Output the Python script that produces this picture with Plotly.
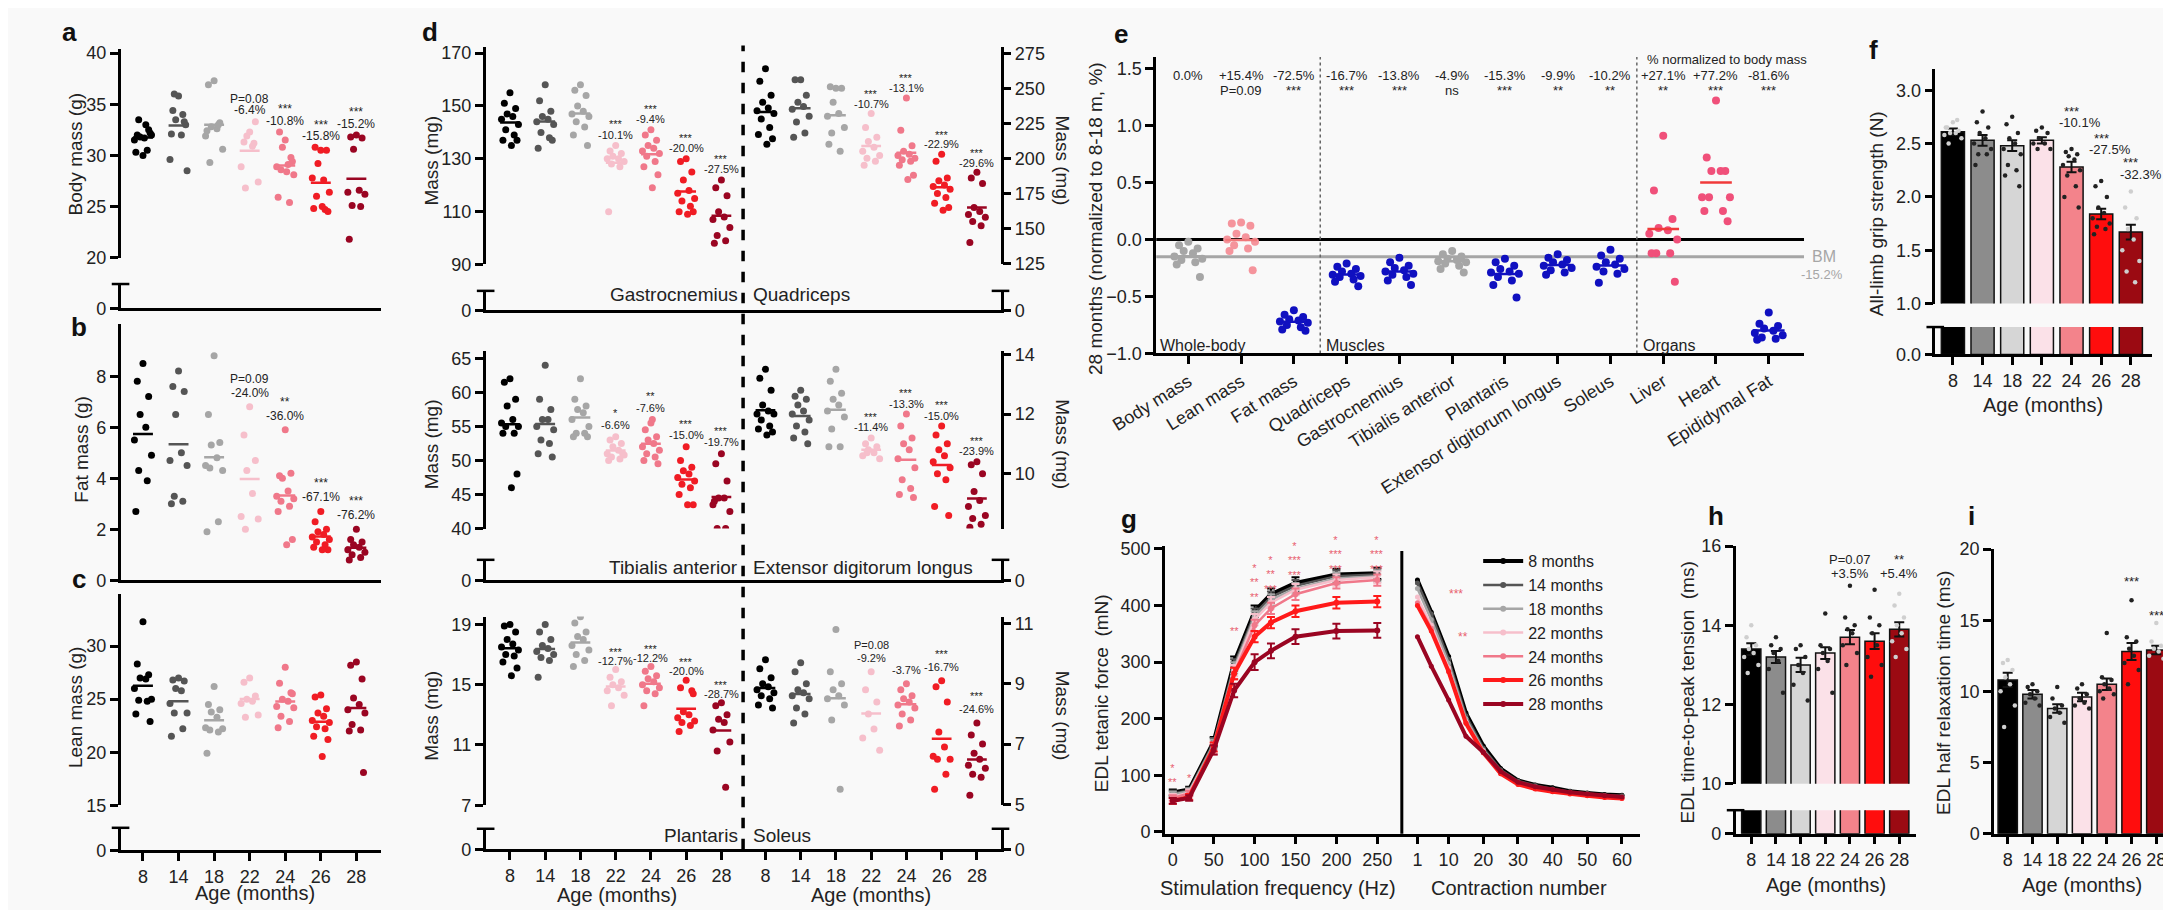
import plotly.graph_objects as go
import numpy as np

W, H = 2171, 910
def px(x): return x / W
def py(y): return 1 - y / H

AGES = ["8", "14", "18", "22", "24", "26", "28"]
DOT_COLORS = ["#000000", "#555555", "#a6a6a6", "#f6bfcb", "#f0788a", "#f01c24", "#9a0522"]
BAR_COLORS = ["#000000", "#8c8c8c", "#d6d6d6", "#fbe1e8", "#f3838b", "#ff0d0d", "#9b0a12"]

# ---------------- data ----------------
body_mass = [
    [30.0, 32.0, 32.5, 31.8, 33.0, 31.5, 32.0, 33.5, 30.5, 30.3, 32.2, 31.7],
    [35.8, 34.4, 33.3, 33.5, 32.0, 29.6, 28.5, 36.0, 34.0, 32.1, 33.0],
    [37.3, 36.9, 33.2, 32.8, 32.6, 31.9, 30.6, 29.3, 33.0, 32.4],
    [32.3, 31.3, 33.3, 31.9, 30.9, 28.9, 27.4, 26.8, 31.2],
    [31.5, 32.3, 29.8, 30.8, 29.1, 28.9, 28.1, 28.6, 25.4, 25.9, 29.4, 28.4],
    [30.5, 30.8, 30.5, 29.2, 27.6, 27.8, 26.4, 26.0, 24.7, 24.8, 24.5, 25.0],
    [32.0, 31.8, 31.7, 30.6, 26.6, 26.4, 26.2, 25.1, 25.0, 21.8],
]
fat_mass = [
    [8.5, 7.8, 7.2, 6.5, 6.0, 5.5, 4.9, 4.3, 3.9, 2.7],
    [8.2, 7.6, 7.4, 6.5, 5.0, 4.7, 4.5, 3.3, 3.1, 3.0],
    [8.8, 6.5, 5.4, 5.3, 4.8, 4.5, 4.3, 4.4, 2.3, 1.9],
    [6.8, 5.7, 4.7, 4.3, 3.4, 2.5, 2.4, 2.0],
    [5.9, 4.1, 4.2, 4.0, 3.5, 3.3, 3.2, 3.1, 2.9, 2.7, 1.6, 1.4],
    [2.7, 2.3, 2.0, 1.9, 1.8, 1.7, 1.6, 1.5, 1.4, 1.3, 1.2, 1.2],
    [2.0, 1.6, 1.5, 1.4, 1.3, 1.2, 1.1, 1.0, 0.9, 0.8],
]
lean_mass = [
    [32.3, 28.3, 27.3, 27.0, 26.9, 26.0, 25.0, 24.9, 24.8, 23.6, 22.9],
    [27.0, 26.8, 26.7, 26.0, 25.8, 24.6, 23.7, 23.7, 22.2, 21.5],
    [26.2, 24.5, 24.0, 23.8, 23.3, 22.3, 22.2, 22.1, 21.9, 19.9],
    [27.0, 26.6, 25.3, 25.0, 24.8, 24.6, 23.5, 23.3],
    [28.0, 26.5, 25.6, 25.0, 24.8, 24.3, 24.2, 23.4, 22.9, 22.3, 25.5],
    [25.4, 25.2, 24.1, 23.7, 23.4, 23.0, 22.8, 22.4, 22.2, 21.5, 21.2, 19.6],
    [28.5, 28.2, 26.9, 25.1, 24.5, 24.0, 23.7, 22.6, 22.1, 22.0, 18.1],
]
gastrocnemius = [
    [155, 151, 149, 147, 146, 145, 143, 141, 139, 137, 137, 135],
    [158, 152, 148, 146, 145, 144, 143, 140, 138, 134, 137],
    [158, 156, 154, 150, 148, 147, 146, 144, 142, 139, 135],
    [135, 133, 132, 131, 130, 130, 129, 128, 127, 110],
    [141, 139, 137, 135, 134, 133, 132, 131, 129, 127, 124, 119],
    [130, 129, 125, 122, 118, 117, 115, 114, 112, 110, 110, 109],
    [122, 119, 116, 110, 108, 107, 104, 101, 99, 98],
]
quadriceps = [
    [264, 255, 245, 240, 236, 234, 232, 228, 222, 217, 214, 210],
    [256, 256, 245, 240, 237, 235, 230, 226, 218, 215],
    [250, 251, 250, 240, 232, 230, 222, 218, 205, 210],
    [232, 222, 215, 212, 208, 205, 202, 200, 198, 195],
    [243, 220, 209, 205, 203, 202, 200, 199, 198, 195, 188, 185],
    [203, 198, 186, 184, 181, 180, 178, 175, 172, 168, 165, 163],
    [190, 186, 182, 165, 162, 160, 158, 155, 152, 140],
]
tibialis = [
    [62, 61.5, 59, 58, 56, 55.5, 55, 55, 54, 54, 48, 46],
    [64, 59, 57.5, 56, 56, 55, 54.5, 53, 52.5, 51, 50.5],
    [62, 59, 58, 57.5, 57, 56, 55, 54, 54, 53.5, 53.5],
    [53.5, 53, 52.5, 52, 51.5, 51, 50.8, 50.5, 50.2, 50, 51],
    [55.5, 54.5, 53.5, 53, 52.5, 52, 51.5, 51, 50.5, 50, 49.5, 56],
    [52, 50, 49, 48.5, 48, 47.5, 47, 46.5, 46, 45, 43.5, 43.5],
    [51, 49.5, 47, 44.5, 44.5, 43.5, 42.5, 40, 40, 44],
]
edl = [
    [13.5, 13.2, 12.8, 12.3, 12.1, 12.0, 12.0, 11.8, 11.6, 11.5, 11.4, 11.3],
    [12.8, 12.6, 12.5, 12.3, 12.1, 12.0, 11.8, 11.6, 11.4, 11.2, 11.0],
    [13.5, 13.1, 12.7, 12.5, 12.3, 12.1, 11.9, 11.5, 10.9, 10.9],
    [11.2, 11.0, 10.9, 10.8, 10.7, 10.6, 10.5, 10.7],
    [12.0, 11.6, 11.2, 11.0, 10.8, 10.5, 10.2, 9.8, 9.5, 9.3, 9.2],
    [11.6, 11.3, 11.0, 10.8, 10.6, 10.4, 10.2, 10.0, 9.8, 8.9, 8.6],
    [10.4, 10.3, 10.0, 9.4, 9.1, 8.9, 8.6, 8.5, 8.3, 8.2],
]
plantaris = [
    [19.0, 18.9, 18.5, 18.0, 17.7, 17.5, 17.3, 17.0, 16.9, 16.5, 16.1, 15.6],
    [19.0, 18.5, 18.0, 17.6, 17.4, 17.2, 17.0, 16.8, 16.6, 15.5],
    [19.5, 19.1, 18.5, 18.2, 18.0, 17.6, 17.3, 17.0, 16.6, 16.2],
    [16.0, 15.5, 15.2, 15.0, 14.8, 14.6, 14.3, 13.6],
    [16.2, 15.9, 15.6, 15.4, 15.2, 15.0, 14.8, 14.6, 14.4, 13.6],
    [15.3, 14.8, 14.6, 13.2, 13.0, 12.8, 12.6, 12.5, 12.3, 11.9, 14.4],
    [13.8, 13.6, 13.0, 12.7, 12.5, 12.0, 11.2, 10.6, 8.2],
]
soleus = [
    [9.8, 9.5, 9.2, 9.0, 8.9, 8.8, 8.7, 8.6, 8.5, 8.3, 8.2],
    [9.7, 9.4, 9.0, 8.8, 8.7, 8.6, 8.5, 8.2, 8.0, 7.7],
    [10.8, 9.4, 9.0, 8.8, 8.6, 8.5, 8.3, 7.8, 5.5],
    [9.4, 8.8, 8.4, 8.0, 7.5, 7.2, 6.8],
    [9.0, 8.8, 8.6, 8.5, 8.4, 8.3, 8.2, 8.0, 7.8, 7.6],
    [9.1, 8.9, 8.4, 7.4, 6.9, 6.6, 6.5, 6.5, 6.0, 5.5],
    [7.7, 7.3, 7.0, 6.7, 6.5, 6.3, 6.2, 6.0, 5.9, 5.3],
]
ann_body = [(3, "P=0.08", "-6.4%"), (4, "***", "-10.8%"), (5, "***", "-15.8%"), (6, "***", "-15.2%")]
ann_fat = [(3, "P=0.09", "-24.0%"), (4, "**", "-36.0%"), (5, "***", "-67.1%"), (6, "***", "-76.2%")]
ann_gas = [(3, "***", "-10.1%"), (4, "***", "-9.4%"), (5, "***", "-20.0%"), (6, "***", "-27.5%")]
ann_quad = [(3, "***", "-10.7%"), (4, "***", "-13.1%"), (5, "***", "-22.9%"), (6, "***", "-29.6%")]
ann_ta = [(3, "*", "-6.6%"), (4, "**", "-7.6%"), (5, "***", "-15.0%"), (6, "***", "-19.7%")]
ann_edl = [(3, "***", "-11.4%"), (4, "***", "-13.3%"), (5, "***", "-15.0%"), (6, "***", "-23.9%")]
ann_pla = [(3, "***", "-12.7%"), (4, "***", "-12.2%"), (5, "***", "-20.0%"), (6, "***", "-28.7%")]
ann_sol = [(3, "P=0.08", "-9.2%"), (4, "", "-3.7%"), (5, "***", "-16.7%"), (6, "***", "-24.6%")]

e_categories = ["Body mass", "Lean mass", "Fat mass", "Quadriceps", "Gastrocnemius", "Tibialis anterior",
                "Plantaris", "Extensor digitorum longus", "Soleus", "Liver", "Heart", "Epididymal Fat"]
e_values = [
    [-0.02, -0.05, -0.08, -0.10, -0.12, -0.15, -0.17, -0.18, -0.20, -0.22, -0.33],
    [0.15, 0.14, 0.12, 0.05, 0.02, 0.00, -0.02, -0.05, -0.08, -0.10, -0.27],
    [-0.62, -0.66, -0.68, -0.70, -0.71, -0.72, -0.73, -0.75, -0.77, -0.79, -0.80],
    [-0.21, -0.24, -0.26, -0.28, -0.30, -0.31, -0.32, -0.33, -0.35, -0.37, -0.41],
    [-0.16, -0.20, -0.23, -0.25, -0.27, -0.28, -0.30, -0.31, -0.33, -0.36, -0.40],
    [-0.10, -0.13, -0.15, -0.17, -0.18, -0.19, -0.20, -0.21, -0.23, -0.26, -0.29],
    [-0.17, -0.20, -0.23, -0.26, -0.28, -0.29, -0.30, -0.33, -0.36, -0.40, -0.51],
    [-0.13, -0.16, -0.18, -0.20, -0.22, -0.23, -0.25, -0.27, -0.29, -0.31],
    [-0.09, -0.14, -0.17, -0.20, -0.22, -0.24, -0.26, -0.28, -0.30, -0.38],
    [0.91, 0.43, 0.18, 0.10, 0.08, 0.05, 0.00, -0.12, -0.12, -0.12, -0.37],
    [1.22, 0.72, 0.60, 0.60, 0.60, 0.37, 0.37, 0.37, 0.25, 0.25, 0.16],
    [-0.64, -0.74, -0.76, -0.78, -0.80, -0.82, -0.84, -0.86, -0.87, -0.88],
]
e_colors = ["#a6a6a6", "#f5949c", "#1010c0", "#1010c0", "#1010c0", "#a6a6a6", "#1010c0", "#1010c0",
            "#1010c0", "#f0507a", "#f0507a", "#1010c0"]
e_line_colors = ["#a6a6a6", "#f0787a", "#1010c0", "#1010c0", "#1010c0", "#a6a6a6", "#1010c0", "#1010c0",
                 "#1010c0", "#f03a3a", "#f03a3a", "#1010c0"]
e_pct = ["0.0%", "+15.4%", "-72.5%", "-16.7%", "-13.8%", "-4.9%", "-15.3%", "-9.9%", "-10.2%", "+27.1%", "+77.2%", "-81.6%"]
e_sig = ["", "P=0.09", "***", "***", "***", "ns", "***", "**", "**", "**", "***", "***"]
bm_level = -0.152

grip_mean = [2.61, 2.53, 2.48, 2.53, 2.28, 1.84, 1.67]
grip_sem = [0.03, 0.05, 0.05, 0.03, 0.05, 0.05, 0.07]
grip_pts = [
    [2.7, 2.65, 2.62, 2.6, 2.6, 2.58, 2.55, 2.5, 2.72, 2.65],
    [2.8, 2.7, 2.65, 2.6, 2.55, 2.5, 2.45, 2.4, 2.4, 2.3],
    [2.75, 2.68, 2.6, 2.55, 2.5, 2.45, 2.4, 2.3, 2.25, 2.2, 2.1],
    [2.65, 2.62, 2.6, 2.55, 2.5, 2.5, 2.45, 2.45],
    [2.45, 2.42, 2.4, 2.38, 2.35, 2.3, 2.25, 2.2, 2.1, 2.0, 1.9],
    [2.15, 2.1, 2.0, 1.9, 1.85, 1.8, 1.75, 1.72, 1.7, 1.65],
    [2.05, 1.9, 1.8, 1.7, 1.6, 1.5, 1.4, 1.3, 1.2],
]
ttp_mean = [13.4, 13.2, 13.0, 13.3, 13.7, 13.6, 13.9]
ttp_sem = [0.15, 0.15, 0.18, 0.15, 0.18, 0.2, 0.18]
ttp_pts = [
    [14.0, 13.7, 13.5, 13.4, 13.3, 13.2, 13.0, 12.8],
    [13.7, 13.5, 13.4, 13.3, 13.1, 12.9, 12.3],
    [13.5, 13.4, 13.2, 13.0, 12.8, 12.5, 12.1],
    [14.3, 13.5, 13.4, 13.3, 13.1, 12.9, 12.3],
    [15.0, 14.2, 14.0, 13.9, 13.8, 13.5, 13.3, 13.0],
    [14.9, 14.2, 14.0, 13.8, 13.5, 13.2, 13.0, 12.7],
    [14.8, 14.5, 14.2, 14.0, 13.8, 13.6, 13.4, 13.2],
]
hrt_mean = [10.8, 9.8, 8.8, 9.6, 10.5, 12.8, 12.9]
hrt_sem = [0.5, 0.3, 0.3, 0.3, 0.4, 0.6, 0.3]
hrt_pts = [
    [12.2, 12.0, 11.5, 11.0, 10.5, 10.0, 9.0, 7.5],
    [10.5, 10.3, 10.0, 9.8, 9.5, 9.2, 9.0],
    [10.3, 9.5, 9.0, 8.8, 8.5, 8.2, 7.8],
    [10.5, 10.2, 9.8, 9.5, 9.2, 9.0, 8.8],
    [14.1, 11.0, 10.8, 10.5, 10.2, 10.0, 9.8, 9.5],
    [16.4, 13.8, 13.5, 13.0, 12.5, 12.0, 11.5, 10.5],
    [14.8, 13.5, 13.2, 13.0, 12.8, 12.5, 12.3],
]

freq = [0, 20, 50, 75, 100, 120, 150, 200, 250]
force = [
    [70, 75, 160, 300, 390, 420, 440, 455, 457],
    [68, 73, 158, 295, 385, 415, 435, 452, 455],
    [66, 72, 155, 290, 380, 410, 430, 448, 452],
    [62, 70, 150, 285, 375, 405, 428, 445, 450],
    [60, 68, 145, 280, 365, 395, 420, 440, 445],
    [55, 62, 150, 280, 345, 370, 390, 405, 407],
    [55, 60, 145, 250, 300, 320, 345, 355, 356],
]
force_err = [
    [5, 5, 8, 10, 10, 10, 10, 10, 10],
    [5, 5, 8, 10, 10, 10, 10, 10, 10],
    [5, 5, 8, 10, 10, 10, 10, 10, 10],
    [5, 5, 8, 10, 10, 10, 10, 10, 10],
    [5, 5, 8, 10, 10, 10, 10, 10, 10],
    [5, 5, 8, 10, 10, 10, 10, 10, 10],
    [5, 5, 8, 12, 14, 13, 13, 13, 13],
]
contraction = [1, 5, 10, 15, 20, 25, 30, 35, 40, 45, 50, 55, 60]
fatigue = [
    [445, 388, 310, 210, 152, 112, 91, 83, 78, 72, 69, 66, 65],
    [440, 385, 305, 205, 148, 110, 90, 82, 76, 71, 68, 65, 64],
    [430, 375, 298, 200, 145, 107, 88, 80, 75, 70, 67, 64, 62],
    [415, 365, 290, 195, 143, 105, 86, 78, 73, 69, 66, 63, 61],
    [405, 360, 285, 193, 142, 104, 85, 77, 72, 68, 65, 62, 60],
    [400, 355, 283, 192, 140, 103, 84, 76, 71, 67, 64, 61, 59],
    [345, 293, 233, 169, 141, 107, 88, 80, 75, 70, 67, 64, 62],
]
legend_names = ["8 months", "14 months", "18 months", "22 months", "24 months", "26 months", "28 months"]
line_colors = ["#000000", "#555555", "#a6a6a6", "#f6bfcb", "#f0788a", "#ff1a1a", "#9a0522"]

# ---------------- helpers ----------------
FONT = "Liberation Sans, Arial, sans-serif"
layout = dict(width=W, height=H, margin=dict(l=0, r=0, t=0, b=0), paper_bgcolor="#f9f9f9",
              plot_bgcolor="rgba(0,0,0,0)", font=dict(family=FONT, color="#222"),
              showlegend=True, shapes=[], annotations=[])
traces = []
cnt = [0]
BASE = dict(showline=True, linewidth=2.5, linecolor="black", ticks="outside", ticklen=8, tickwidth=2.5,
            tickcolor="black", showgrid=False, zeroline=False, tickfont=dict(size=18, color="#222"), fixedrange=True)

def dummy(xref, yref, x, y):
    traces.append(go.Scatter(x=[x], y=[y], mode="markers", xaxis=xref, yaxis=yref, showlegend=False,
                             marker=dict(size=1, opacity=0), hoverinfo="skip"))

def new_axes(xd, yd, xr, yr, xopt=None, yopt=None):
    cnt[0] += 1
    n = cnt[0]
    s = "" if n == 1 else str(n)
    xa = dict(BASE, domain=[px(xd[0]), px(xd[1])], range=xr, anchor="y" + s)
    ya = dict(BASE, domain=[py(yd[1]), py(yd[0])], range=yr, anchor="x" + s)
    if xopt: xa.update(xopt)
    if yopt: ya.update(yopt)
    layout["xaxis" + s] = xa
    layout["yaxis" + s] = ya
    dummy("x" + s, "y" + s, xr[0], yr[0])
    return "x" + s, "y" + s

def right_y(xref, yref, yd, yr, yopt=None):
    cnt[0] += 1
    n = cnt[0]
    ya = dict(BASE, domain=[py(yd[1]), py(yd[0])], range=yr, overlaying=yref, side="right", anchor=xref)
    if yopt: ya.update(yopt)
    layout["yaxis" + str(n)] = ya
    dummy(xref, "y" + str(n), layout["xaxis" + ("" if xref == "x" else xref[1:])]["range"][0], yr[0])
    return "y" + str(n)

def cap(xpx, ypx):
    layout["shapes"].append(dict(type="line", xref="paper", yref="paper", x0=px(xpx - 9), x1=px(xpx + 9),
                                 y0=py(ypx), y1=py(ypx), line=dict(color="black", width=2.5)))

def ann(text, x, y, xref="paper", yref="paper", size=13, color="#222", **kw):
    d = dict(text=text, x=x, y=y, xref=xref, yref=yref, showarrow=False, xanchor="center", yanchor="middle",
             font=dict(size=size, color=color, family=FONT))
    d.update(kw)
    layout["annotations"].append(d)

JIT = [0.0, -0.16, 0.16, -0.08, 0.08, -0.24, 0.24, -0.12, 0.12, -0.2, 0.2, 0.04]

def dots(xref, yref, groups, positions, colors, size=7, half=0.28, lw=2.5):
    for vals, pos, col in zip(groups, positions, colors):
        xs = [pos + JIT[k % len(JIT)] for k in range(len(vals))]
        traces.append(go.Scatter(x=xs, y=vals, mode="markers", xaxis=xref, yaxis=yref, showlegend=False,
                                 marker=dict(size=size, color=col), hoverinfo="skip"))
        m = float(np.mean(vals))
        traces.append(go.Scatter(x=[pos - half, pos + half], y=[m, m], mode="lines", xaxis=xref, yaxis=yref,
                                 showlegend=False, line=dict(color=col, width=lw), hoverinfo="skip"))

def group_ann(xref, yref, items, positions, groups, gap, size=11):
    for gi, star, pct in items:
        top = max(groups[gi])
        ann(pct, positions[gi], top + gap, xref, yref, size=size)
        if star:
            ann(star, positions[gi], top + gap * 2.0, xref, yref, size=size)

def ytitle(text, x, y, size=19, angle=-90):
    ann(text, px(x), py(y), size=size, textangle=angle)

def letter(t, x, y):
    ann("<b>%s</b>" % t, px(x), py(y), size=26, color="#111")

def zero_axis(xd, yd, xr, xopt=None):
    cap(xd[0], yd[0])
    return new_axes(xd, yd, xr, [0, 1], xopt=xopt, yopt=dict(tickvals=[0], ticktext=["0"]))

POS7 = list(range(7))
NOX = dict(showticklabels=False, ticks="")
TICKX = dict(tickvals=POS7, ticktext=AGES)

# ---------------- panels a, b, c ----------------
ABC_X = (68, 334)
ABC_R = [-0.63, 6.69]
xa, ya = new_axes(ABC_X, (32, 245), ABC_R, [20, 40.38], xopt=dict(visible=False), yopt=dict(tickvals=[20, 25, 30, 35, 40]))
dots(xa, ya, body_mass, POS7, DOT_COLORS)
group_ann(xa, ya, ann_body, POS7, body_mass, 1.1, size=12)
zero_axis(ABC_X, (272, 297), ABC_R, xopt=NOX)
xb, yb = new_axes(ABC_X, (313, 575), ABC_R, [0, 10.04], xopt=NOX, yopt=dict(tickvals=[0, 2, 4, 6, 8]))
dots(xb, yb, fat_mass, POS7, DOT_COLORS)
group_ann(xb, yb, ann_fat, POS7, fat_mass, 0.55, size=12)
xc, yc = new_axes(ABC_X, (589, 805), ABC_R, [15, 34.9], xopt=dict(visible=False), yopt=dict(tickvals=[15, 20, 25, 30]))
dots(xc, yc, lean_mass, POS7, DOT_COLORS)
zero_axis(ABC_X, (828, 851), ABC_R, xopt=TICKX)
ytitle("Body mass (g)", 22, 140)
ytitle("Fat mass (g)", 28, 441)
ytitle("Lean mass (g)", 22, 705)
ann("Age (months)", px(205), py(895), size=20)
letter("a", 16, 14)
letter("b", 26, 316)
letter("c", 26, 574)

# ---------------- panel d ----------------
D_X = (441, 967)
D_R = [-0.69, 13.92]
LPOS = [float(i) for i in range(7)]
RPOS = [7.25 + i for i in range(7)]
rows = [
    ((30, 252), [90, 172.2], [90, 110, 130, 150, 170], [124.3, 279.2], [125, 150, 175, 200, 225, 250, 275],
     gastrocnemius, quadriceps, ann_gas, ann_quad, (4.0, 7.0), (279, 299), "Gastrocnemius", "Quadriceps", 283),
    ((340, 522), [40, 66.15], [40, 45, 50, 55, 60, 65], [8.16, 14.13], [8, 10, 12, 14],
     tibialis, edl, ann_ta, ann_edl, (1.7, 0.35), (554, 575), "Tibialis anterior", "Extensor digitorum longus", 562),
    ((612, 805), [7, 19.52], [7, 11, 15, 19], [4.97, 11.23], [5, 7, 9, 11],
     plantaris, soleus, ann_pla, ann_sol, (0.6, 0.45), (829, 850), "Plantaris", "Soleus", 836),
]
for ri, (yd, lr, lt, rr, rt, lg, rg, la, raa, gaps, zd, ln, rn, ly) in enumerate(rows):
    xd_, yd_ = new_axes(D_X, yd, D_R, lr, xopt=dict(visible=False), yopt=dict(tickvals=lt))
    dots(xd_, yd_, lg, LPOS, DOT_COLORS)
    group_ann(xd_, yd_, la, LPOS, lg, gaps[0])
    yr_ = right_y(xd_, yd_, yd, rr, yopt=dict(tickvals=rt))
    dots(xd_, yr_, rg, RPOS, DOT_COLORS)
    group_ann(xd_, yr_, raa, RPOS, rg, gaps[1])
    last = ri == 2
    cap(D_X[0], zd[0])
    cap(D_X[1], zd[0])
    xz, yz = new_axes(D_X, zd, D_R, [0, 1],
                      xopt=(dict(tickvals=LPOS + RPOS, ticktext=AGES + AGES) if last else NOX),
                      yopt=dict(tickvals=[0]))
    right_y(xz, yz, zd, [0, 1], yopt=dict(tickvals=[0]))
    ann(ln, px(701), py(ly), size=19, xanchor="right")
    ann(rn, px(712), py(ly), size=19, xanchor="left")
    ytitle("Mass (mg)", 386, (yd[0] + yd[1]) / 2 + 5)
    ytitle("Mass (mg)", 1030, (yd[0] + yd[1]) / 2 + 5, angle=90)
layout["shapes"].append(dict(type="line", xref="paper", yref="paper", x0=px(704), x1=px(704), y0=py(850), y1=py(28),
                             line=dict(color="black", width=3.5, dash="dash")))
ann("Age (months)", px(575), py(897), size=20)
ann("Age (months)", px(835), py(897), size=20)
letter("d", 384, 14)

# ---------------- panel e ----------------
epos = list(range(12))
xe, ye = new_axes((1126, 1788), (40, 343), [-0.61, 11.67], [-1.0, 1.6],
                  xopt=dict(tickvals=epos, ticktext=e_categories, tickangle=-32, tickfont=dict(size=18, color="#222")),
                  yopt=dict(tickvals=[-1.0, -0.5, 0.0, 0.5, 1.0, 1.5], tickformat=".1f"))
for xv, col in [(bm_level, "#a6a6a6"), (0.0, "black")]:
    traces.append(go.Scatter(x=[-0.61, 11.67], y=[xv, xv], mode="lines", xaxis=xe, yaxis=ye, showlegend=False,
                             line=dict(color=col, width=3), hoverinfo="skip"))
for dv in [2.5, 8.5]:
    traces.append(go.Scatter(x=[dv, dv], y=[-1.0, 1.6], mode="lines", xaxis=xe, yaxis=ye, showlegend=False,
                             line=dict(color="#666", width=1.5, dash="dot"), hoverinfo="skip"))
for i in range(12):
    vals = e_values[i]
    xs = [i + JIT[k % len(JIT)] * 1.1 for k in range(len(vals))]
    traces.append(go.Scatter(x=xs, y=vals, mode="markers", xaxis=xe, yaxis=ye, showlegend=False,
                             marker=dict(size=8, color=e_colors[i]), hoverinfo="skip"))
    m = float(np.mean(vals))
    traces.append(go.Scatter(x=[i - 0.3, i + 0.3], y=[m, m], mode="lines", xaxis=xe, yaxis=ye, showlegend=False,
                             line=dict(color=e_line_colors[i], width=2.5), hoverinfo="skip"))
    ann(e_pct[i], i, 1.44, xe, ye, size=13)
    if e_sig[i]:
        ann(e_sig[i], i, 1.31, xe, ye, size=13)
ann("% normalized to body mass", 10.2, 1.58, xe, ye, size=13)
ann("Whole-body", -0.58, -0.93, xe, ye, size=16, xanchor="left")
ann("Muscles", 2.58, -0.93, xe, ye, size=16, xanchor="left")
ann("Organs", 8.58, -0.93, xe, ye, size=16, xanchor="left")
ann("BM", px(1808), py(244), size=16, color="#a6a6a6")
ann("-15.2%", px(1806), py(262), size=13, color="#a6a6a6")
ytitle("28 months (normalized to 8-18 m, %)", 1064, 205)
letter("e", 1090, 16)

# ---------------- bar panels ----------------
def bar_panel(xd, cat0, step, yd_main, yr_main, ytv, yd_low, yr_low, means, sems, pts, ytfmt=None, lowtick="0"):
    xr = [(xd[0] - cat0) / step, (xd[1] - cat0) / step]
    yopt = dict(tickvals=ytv)
    if ytfmt: yopt["tickformat"] = ytfmt
    refs = []
    xm, ym = new_axes(xd, yd_main, xr, yr_main, xopt=(dict(visible=False) if yd_low else TICKX), yopt=yopt)
    refs.append((xm, ym, True))
    if yd_low:
        cap(xd[0], yd_low[0])
        xl, yl = new_axes(xd, yd_low, xr, yr_low, xopt=TICKX, yopt=dict(tickvals=[0], ticktext=[lowtick]))
        refs.append((xl, yl, False))
    for xr_, yr_, main in refs:
        traces.append(go.Bar(x=POS7, y=means, width=0.78, xaxis=xr_, yaxis=yr_, showlegend=False,
                             marker=dict(color=BAR_COLORS, line=dict(color="#111", width=1.5)),
                             error_y=(dict(type="data", array=sems, color="#111", thickness=2, width=5) if main else None),
                             hoverinfo="skip"))
        if main:
            for i, vals in enumerate(pts):
                xs = [i + JIT[k % len(JIT)] * 1.2 for k in range(len(vals))]
                col = "#cfcfcf" if i in (0, 6) else "#222"
                traces.append(go.Scatter(x=xs, y=vals, mode="markers", xaxis=xr_, yaxis=yr_, showlegend=False,
                                         marker=dict(size=4.5, color=col), hoverinfo="skip"))
    return xm, ym

xf, yf = bar_panel((1922, 2143), 1940, 30.3, (52, 292), [1.0, 3.2], [1.0, 1.5, 2.0, 2.5, 3.0], (316, 344), [0, 0.257],
                   grip_mean, grip_sem, grip_pts, ytfmt=".1f", lowtick="0.0")
for gi, s, p, y1, y2, dx in [(4, "***", "-10.1%", 2.8, 2.70, 0.3), (5, "***", "-27.5%", 2.55, 2.44, 0.3),
                             (6, "***", "-32.3%", 2.32, 2.21, 0.35)]:
    ann(s, gi, y1, xf, yf, size=13)
    ann(p, gi + dx, y2, xf, yf, size=13)
ytitle("All-limb grip strength (N)", 1862, 200)
ann("Age (months)", px(2032), py(396), size=20)
letter("f", 1859, 33)

xh, yh = bar_panel((1718, 1902), 1734, 25.2, (540, 783), [10, 16], [10, 12, 14, 16], (810, 834), [0, 0.59],
                   ttp_mean, ttp_sem, ttp_pts)
ann("P=0.07", 4, 15.65, xh, yh, size=13)
ann("+3.5%", 4, 15.3, xh, yh, size=13)
ann("**", 6, 15.65, xh, yh, size=13)
ann("+5.4%", 6, 15.3, xh, yh, size=13)
ytitle("EDL time-to-peak tension  (ms)", 1669, 690)
ann("Age (months)", px(1810), py(886), size=20)
letter("h", 1698, 509)

xi, yi = bar_panel((1982, 2166), 1996, 25.3, (543, 834), [0, 20], [0, 5, 10, 15, 20], None, None,
                   hrt_mean, hrt_sem, hrt_pts)
ann("***", 5, 17.7, xi, yi, size=13)
ann("***", 6, 15.3, xi, yi, size=13)
ytitle("EDL half relaxation time (ms)", 1931, 690)
ann("Age (months)", px(2072), py(886), size=20)
letter("i", 1959, 509)

# ---------------- panel g ----------------
xg, yg = new_axes((1135, 1377), (540, 834), [-9.6, 280], [-3, 505],
                  xopt=dict(tickvals=[0, 50, 100, 150, 200, 250]), yopt=dict(tickvals=[0, 100, 200, 300, 400, 500]))
xg2, yg2 = new_axes((1377, 1620), (540, 834), [-3.5, 65.1], [-3, 505],
                    xopt=dict(tickvals=[1, 10, 20, 30, 40, 50, 60]), yopt=dict(visible=False))
for i in range(7):
    w = 4 if i in (0, 5, 6) else 2.5
    traces.append(go.Scatter(x=freq, y=force[i], mode="lines+markers", xaxis=xg, yaxis=yg, name=legend_names[i],
                             line=dict(color=line_colors[i], width=w), marker=dict(size=6, color=line_colors[i]),
                             error_y=dict(type="data", array=force_err[i], color=line_colors[i], thickness=2, width=4),
                             legendgroup=str(i), hoverinfo="skip"))
    traces.append(go.Scatter(x=contraction, y=fatigue[i], mode="lines+markers", xaxis=xg2, yaxis=yg2, showlegend=False,
                             line=dict(color=line_colors[i], width=w), marker=dict(size=5, color=line_colors[i]),
                             legendgroup=str(i), hoverinfo="skip"))
layout["shapes"].append(dict(type="line", xref="paper", yref="paper", x0=px(1377), x1=px(1377), y0=py(834), y1=py(545),
                             line=dict(color="black", width=3)))
for xv, yv, t in [(0, 100, "*<br>**"), (20, 95, "*"), (75, 355, "**"), (100, 440, "*<br>**<br>**"),
                  (120, 455, "*<br>**<br>***"), (150, 480, "*<br>***<br>***"), (200, 490, "*<br>***<br>***"),
                  (250, 490, "*<br>***<br>***")]:
    ann(t, xv, yv, xg, yg, size=11, color="#e8606e")
ann("***", 12, 420, xg2, yg2, size=12, color="#e8606e")
ann("**", 14, 345, xg2, yg2, size=12, color="#e8606e")
ytitle("EDL tetanic force  (mN)", 1071, 690)
ann("Stimulation frequency (Hz)", px(1250), py(890), size=20)
ann("Contraction number", px(1497), py(890), size=20)
letter("g", 1098, 512)
layout["legend"] = dict(x=px(1455), y=py(538), xanchor="left", yanchor="top", bgcolor="rgba(0,0,0,0)",
                        font=dict(size=16, color="#222", family=FONT), tracegroupgap=0, itemwidth=40)

fig = go.Figure(data=traces, layout=layout)
fig.write_html("out.html")
